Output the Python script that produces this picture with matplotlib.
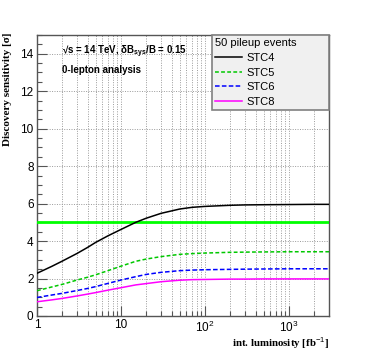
"""Discovery sensitivity vs integrated luminosity, ROOT-style canvas."""

import matplotlib

matplotlib.use("Agg")

import matplotlib.pyplot as plt
from matplotlib.ticker import FixedLocator, FuncFormatter, MultipleLocator

SANS = ["Liberation Sans", "DejaVu Sans"]
SERIF = ["Liberation Serif", "DejaVu Serif"]
FRAME = "#555555"
GRID = "#9a9a9a"

# int. luminosity [fb^-1] and sensitivity [sigma]
LUMI = [1, 1.5, 2, 3, 4, 5, 7, 10, 15, 20, 30, 50, 70, 100, 200, 300, 500, 1000, 2000, 3000]
STC4 = [2.28, 2.65, 2.93, 3.34, 3.66, 3.93, 4.28, 4.62, 5.00, 5.22, 5.48, 5.71, 5.80, 5.85,
        5.91, 5.93, 5.94, 5.95, 5.96, 5.96]
STC5 = [1.35, 1.55, 1.69, 1.92, 2.07, 2.20, 2.42, 2.66, 2.92, 3.04, 3.17, 3.29, 3.33, 3.36,
        3.40, 3.41, 3.42, 3.43, 3.43, 3.43]
STC6 = [0.99, 1.12, 1.21, 1.36, 1.47, 1.57, 1.74, 1.92, 2.10, 2.22, 2.33, 2.42, 2.45, 2.47,
        2.49, 2.50, 2.51, 2.52, 2.52, 2.52]
STC8 = [0.76, 0.86, 0.94, 1.07, 1.17, 1.25, 1.38, 1.51, 1.66, 1.73, 1.83, 1.91, 1.94, 1.95,
        1.97, 1.97, 1.98, 1.98, 1.98, 1.98]
DISCOVERY = 5.0

SERIES = [
    ("STC4", STC4, "black", "-"),
    ("STC5", STC5, "#00c800", (0, (2.5, 1.5))),
    ("STC6", STC6, "#0000ff", (0, (3, 1.5))),
    ("STC8", STC8, "#ff00ff", "-"),
]

plt.rcParams["mathtext.fontset"] = "custom"
plt.rcParams["mathtext.rm"] = "Liberation Sans"
plt.rcParams["mathtext.it"] = "Liberation Sans:italic"
plt.rcParams["mathtext.bf"] = "Liberation Sans:bold"

fig = plt.figure(figsize=(3.66, 3.51), dpi=100, facecolor="white")
ax = fig.add_axes([37 / 366, 35 / 351, 292 / 366, 281 / 351])
ax.set_xscale("log")
ax.set_xlim(1, 3000)
ax.set_ylim(0, 15)

minor_x = [m * 10 ** d for d in range(4) for m in range(2, 10) if m * 10 ** d < 3000]
ax.xaxis.set_major_locator(FixedLocator([1, 10, 100, 1000]))
ax.xaxis.set_minor_locator(FixedLocator(minor_x))
ax.xaxis.set_major_formatter(
    FuncFormatter(lambda v, _: {1: "1", 10: "10", 100: "$10^{2}$", 1000: "$10^{3}$"}.get(int(round(v)), ""))
)
ax.yaxis.set_major_locator(MultipleLocator(2))
ax.yaxis.set_minor_locator(MultipleLocator(0.5))

ax.grid(True, which="major", axis="both", color=GRID, linestyle=(0, (1, 1.5)), linewidth=0.7)
ax.grid(True, which="minor", axis="x", color=GRID, linestyle=(0, (1, 1.5)), linewidth=0.7)
ax.set_axisbelow(True)

ax.tick_params(which="both", direction="in", top=False, right=False, color=FRAME, width=0.8)
ax.tick_params(which="major", length=7, labelsize=8.5, pad=2.5)
ax.tick_params(which="minor", length=3.5)
for label in ax.get_xticklabels() + ax.get_yticklabels():
    label.set_family(SANS)
for side in ax.spines.values():
    side.set_color(FRAME)
    side.set_linewidth(1.0)

ax.axhline(DISCOVERY, color="#00ff00", linewidth=2.0, zorder=3)
for name, values, colour, style in SERIES:
    ax.plot(LUMI, values, color=colour, linestyle=style, linewidth=1.1, label=name, zorder=4)

legend = ax.legend(
    title="50 pileup events",
    loc="upper left",
    bbox_to_anchor=((212 - 37) / 292, 0.0, (329 - 212) / 292, 1.0),
    mode="expand",
    borderaxespad=0,
    fancybox=False,
    framealpha=1,
    facecolor="#f0f0f0",
    edgecolor="#808080",
    prop={"family": SANS, "size": 8},
    title_fontproperties={"family": SANS, "size": 8},
    alignment="left",
    handlelength=2.4,
    handletextpad=0.4,
    labelspacing=0.42,
    borderpad=0.3,
)
legend.get_frame().set_linewidth(1.2)
legend.set_zorder(6)

ax.text((62 - 37) / 292, (316 - 52) / 281, "√s = 14 TeV, δB$_{\\mathbf{sys}}$/B = 0.15",
        transform=ax.transAxes, family=SANS, fontsize=7, fontweight="bold", va="center", zorder=7)
ax.text((62 - 37) / 292, (316 - 70) / 281, "0-lepton analysis",
        transform=ax.transAxes, family=SANS, fontsize=7, fontweight="bold", va="center", zorder=7)

fig.text(329 / 366, 1 - 343 / 351, "int. luminosity [fb$^{-1}$]", family=SERIF,
         fontsize=7.8, fontweight="bold", ha="right", va="center")
fig.text(8 / 366, 1 - 33 / 351, "Discovery sensitivity [σ]", family=SERIF,
         fontsize=8, fontweight="bold", ha="center", va="top", rotation=90)

fig.savefig("out.png", dpi=100, facecolor="white")
